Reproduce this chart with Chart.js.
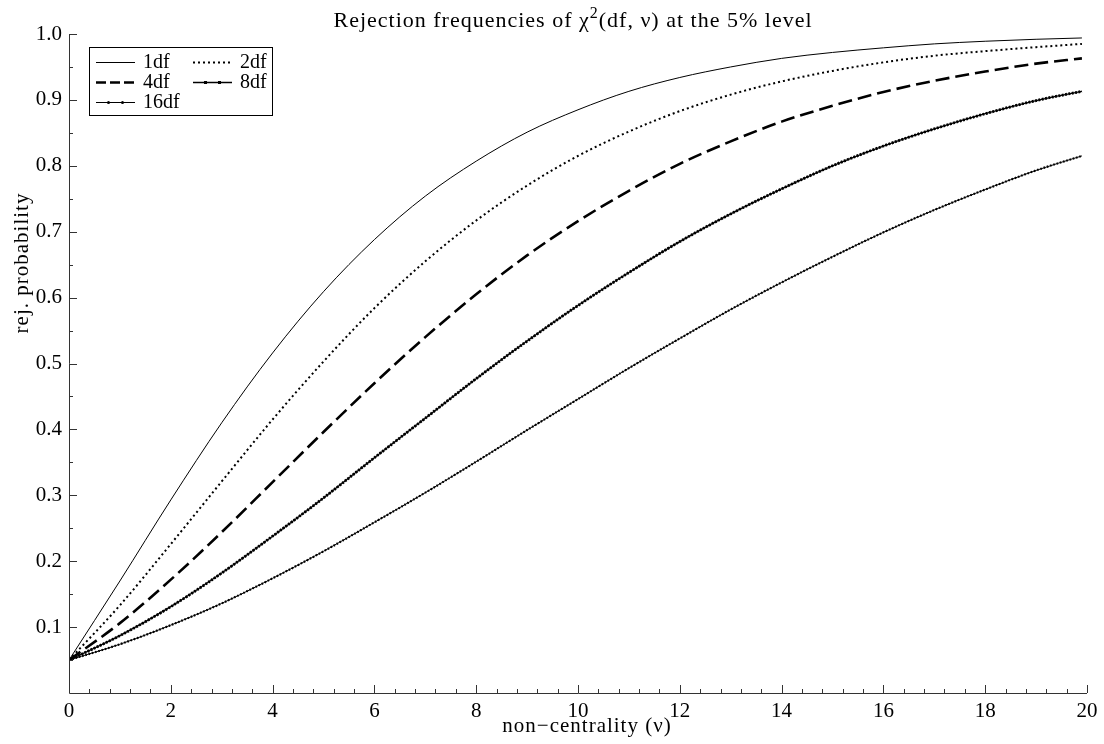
<!DOCTYPE html>
<html>
<head>
<meta charset="utf-8">
<script src="https://cdn.jsdelivr.net/npm/chart.js@4.4.0/dist/chart.umd.min.js"></script>
<style>
  html, body { margin: 0; padding: 0; background: #fff; }
</style>
</head>
<body>
<canvas id="powerChart" width="1104" height="744"></canvas>
<script>
// non-centrality values where the curves were read off
var nonCentrality = [0, 1, 2, 3, 4, 5, 6, 7, 8, 9, 10, 11, 12, 13, 14, 15, 16, 17, 18, 19, 19.9];

// rejection probabilities per degrees of freedom
var df1  = [0.050, 0.170, 0.293, 0.410, 0.516, 0.609, 0.688, 0.754, 0.807, 0.851, 0.885, 0.913, 0.934, 0.950, 0.963, 0.972, 0.979, 0.985, 0.989, 0.992, 0.994];
var df2  = [0.050, 0.133, 0.226, 0.321, 0.415, 0.503, 0.584, 0.655, 0.717, 0.770, 0.815, 0.852, 0.883, 0.908, 0.928, 0.944, 0.957, 0.967, 0.974, 0.980, 0.985];
var df4  = [0.050, 0.106, 0.172, 0.244, 0.320, 0.396, 0.470, 0.540, 0.605, 0.664, 0.716, 0.762, 0.803, 0.837, 0.867, 0.891, 0.912, 0.929, 0.943, 0.955, 0.963];
var df8  = [0.050, 0.087, 0.131, 0.182, 0.238, 0.296, 0.357, 0.417, 0.477, 0.534, 0.588, 0.638, 0.685, 0.727, 0.765, 0.800, 0.830, 0.856, 0.879, 0.899, 0.913];
var df16 = [0.050, 0.074, 0.103, 0.136, 0.174, 0.215, 0.259, 0.304, 0.351, 0.399, 0.446, 0.493, 0.538, 0.582, 0.623, 0.662, 0.699, 0.733, 0.764, 0.793, 0.815];

var seriesLabels = ["1df", "2df", "4df", "8df", "16df"];

var FONT = "'Liberation Serif', 'DejaVu Serif', serif";

function toPoints(values) {
    return values.map(function (v, i) { return { x: nonCentrality[i], y: v }; });
}

function line(values, width, dash) {
    return {
        data: toPoints(values),
        borderColor: "#000",
        borderWidth: width,
        borderDash: dash || [],
        borderCapStyle: "butt",
        pointRadius: 0,
        fill: false,
        cubicInterpolationMode: "monotone"
    };
}

var datasets = [
    line(df1, 1),
    line(df2, 2, [2, 3]),
    line(df4, 2.6, [14, 6]),
    line(df8, 1.3),
    line(df8, 2.8, [2, 1.4]),   // beads on the 8df curve
    line(df16, 1),
    line(df16, 2.2, [1.6, 1.8]) // beads on the 16df curve
];

// axes, tick marks, titles and the boxed legend
var decor = {
    id: "decor",
    afterDraw: function (chart) {
        var ctx = chart.ctx, a = chart.chartArea;
        var xs = chart.scales.x, ys = chart.scales.y;
        var i, p, len;
        ctx.save();
        ctx.strokeStyle = "#333";
        ctx.lineWidth = 1;
        ctx.beginPath();
        ctx.moveTo(a.left + 0.5, a.top);
        ctx.lineTo(a.left + 0.5, a.bottom + 0.5);
        ctx.lineTo(a.right, a.bottom + 0.5);
        for (i = 1; i <= 20; i++) {
            p = Math.round(ys.getPixelForValue(i * 0.05)) + 0.5;
            len = i % 2 === 0 ? 8 : 4;
            ctx.moveTo(a.left, p);
            ctx.lineTo(a.left + len, p);
        }
        for (i = 0; i <= 50; i++) {
            p = Math.round(xs.getPixelForValue(i * 0.4)) + 0.5;
            len = i % 5 === 0 ? 8 : 4;
            ctx.moveTo(p, a.bottom);
            ctx.lineTo(p, a.bottom - len);
        }
        ctx.stroke();

        ctx.fillStyle = "#000";
        // title with superscript
        var p1 = "Rejection frequencies of \u03c7", sup = "2", p2 = "(df, \u03bd) at the 5% level";
        ctx.letterSpacing = "1px";
        ctx.font = "22px " + FONT;
        var w1 = ctx.measureText(p1).width, w2 = ctx.measureText(p2).width;
        ctx.font = "16px " + FONT;
        var ws = ctx.measureText(sup).width;
        var tx = 573 - (w1 + ws + w2) / 2;
        ctx.textBaseline = "alphabetic";
        ctx.textAlign = "left";
        ctx.font = "22px " + FONT;
        ctx.fillText(p1, tx, 27);
        ctx.font = "16px " + FONT;
        ctx.fillText(sup, tx + w1, 18);
        ctx.font = "22px " + FONT;
        ctx.fillText(p2, tx + w1 + ws, 27);

        // axis titles
        ctx.font = "21px " + FONT;
        ctx.textAlign = "center";
        ctx.textBaseline = "middle";
        ctx.fillText("non\u2212centrality (\u03bd)", 587, 726);
        ctx.save();
        ctx.translate(22, 263);
        ctx.rotate(-Math.PI / 2);
        ctx.fillText("rej. probability", 0, 0);
        ctx.restore();
        ctx.letterSpacing = "0px";

        // legend box
        ctx.fillStyle = "#fff";
        ctx.fillRect(89, 47, 183, 69);
        ctx.strokeStyle = "#000";
        ctx.strokeRect(89.5, 47.5, 183, 68);
        var slots = [[96, 62], [193, 62], [96, 82], [193, 82], [96, 102]];
        var styles = [[1, []], [2, [2, 3]], [2.5, [10, 4]], [1.3, []], [1, []]];
        ctx.font = "20px " + FONT;
        ctx.textAlign = "left";
        ctx.textBaseline = "middle";
        for (i = 0; i < 5; i++) {
            var sx = slots[i][0], sy = slots[i][1] + 0.5;
            ctx.strokeStyle = "#000";
            ctx.lineWidth = styles[i][0];
            ctx.setLineDash(styles[i][1]);
            ctx.beginPath();
            ctx.moveTo(sx, sy);
            ctx.lineTo(sx + 39, sy);
            ctx.stroke();
            ctx.setLineDash([]);
            ctx.fillStyle = "#000";
            if (i === 3) {
                ctx.fillRect(sx + 11, sy - 1.5, 3, 3);
                ctx.fillRect(sx + 25, sy - 1.5, 3, 3);
            }
            if (i === 4) {
                ctx.beginPath();
                ctx.arc(sx + 12.5, sy, 1.5, 0, Math.PI * 2);
                ctx.arc(sx + 26.5, sy, 1.5, 0, Math.PI * 2);
                ctx.fill();
            }
            ctx.fillText(seriesLabels[i], sx + 47, slots[i][1] + 1);
        }
        ctx.restore();
    }
};

new Chart(document.getElementById("powerChart").getContext("2d"), {
    type: "line",
    data: { datasets: datasets },
    options: {
        responsive: false,
        animation: false,
        layout: { padding: { top: 34, right: 17, left: 0, bottom: 0 } },
        plugins: { legend: { display: false }, title: { display: false }, tooltip: { enabled: false } },
        scales: {
            x: {
                type: "linear",
                min: 0,
                max: 20,
                grid: { display: false, drawTicks: false },
                border: { display: false },
                ticks: {
                    stepSize: 2,
                    padding: 6,
                    color: "#000",
                    maxRotation: 0,
                    font: { family: FONT, size: 21 }
                },
                afterFit: function (s) { s.height = 51; }
            },
            y: {
                type: "linear",
                min: 0,
                max: 1,
                grid: { display: false, drawTicks: false },
                border: { display: false },
                ticks: {
                    stepSize: 0.1,
                    padding: 7,
                    color: "#000",
                    font: { family: FONT, size: 21 },
                    callback: function (v) { return v < 0.05 ? "" : v.toFixed(1); }
                },
                afterFit: function (s) { s.width = 69; }
            }
        }
    },
    plugins: [decor]
});
</script>
</body>
</html>
